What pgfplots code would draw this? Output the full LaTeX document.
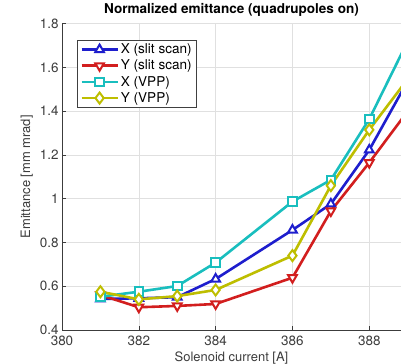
\documentclass[border=0pt]{standalone}
\usepackage{fontspec}
\setmainfont{TeX Gyre Heros}
\usepackage{pgfplots}
\pgfplotsset{compat=1.18}
\definecolor{mblue}{RGB}{30,30,205}
\definecolor{mred}{RGB}{210,30,30}
\definecolor{mcyan}{RGB}{25,190,190}
\definecolor{myel}{RGB}{190,190,0}
\definecolor{tickc}{RGB}{60,60,60}
\begin{document}
\begin{tikzpicture}
\useasboundingbox (0bp,0bp) rectangle (401bp,364bp);
\begin{axis}[
  at={(62bp,34bp)}, anchor=south west,
  scale only axis, width=339bp, height=306.3bp,
  xmin=380, xmax=388.826, ymin=0.4, ymax=1.8,
  xtick={380,382,384,386,388},
  ytick={0.4,0.6,0.8,1,1.2,1.4,1.6,1.8},
  axis x line*=bottom, axis y line*=left,
  axis line style={color=tickc, line width=0.6bp, -},
  tick align=inside, major tick length=4bp,
  tick style={color=tickc, line width=0.6bp},
  grid=major, grid style={color=black!12, line width=0.5bp},
  ticklabel style={font=\fontsize{13.5}{15}\selectfont, text=tickc},
  xticklabel style={yshift=-2.5bp},
  /pgf/number format/assume math mode=true,
  xlabel={Solenoid current [A]}, ylabel={Emittance [mm mrad]},
  label style={font=\fontsize{13}{15}\selectfont, text=tickc},
  xlabel style={yshift=0.5bp},
  title={Normalized emittance (quadrupoles on)},
  title style={font=\bfseries\fontsize{13.6}{15}\selectfont, inner sep=0pt, yshift=1.5bp},
  every axis plot/.append style={line width=2.6bp},
  legend cell align=left,
  legend image code/.code={\draw[mark repeat=2,mark phase=2] plot coordinates {(0bp,0bp) (18bp,0bp) (36bp,0bp)};},
  legend style={at={(0.0442,0.948)}, anchor=north west, draw=black!75, line width=0.6bp,
     font=\fontsize{13.6}{15}\selectfont, row sep=0.8bp, inner xsep=3bp, inner ysep=2bp},
]
\addplot[color=mblue, mark=triangle*, mark options={fill=white, solid, line width=2bp}, mark size=5bp]
  coordinates {(381,0.542) (382,0.545) (383,0.550) (384,0.633) (386,0.857) (387,0.976) (388,1.223) (389,1.538)};
\addlegendentry{X (slit scan)}
\addplot[color=mred, mark=triangle*, mark options={fill=white, solid, line width=2bp, rotate=180}, mark size=5bp]
  coordinates {(381,0.560) (382,0.504) (383,0.510) (384,0.519) (386,0.639) (387,0.944) (388,1.165) (389,1.400)};
\addlegendentry{Y (slit scan)}
\addplot[color=mcyan, mark=square*, mark options={fill=white, solid, line width=2bp}, mark size=4.3bp]
  coordinates {(381,0.552) (382,0.575) (383,0.601) (384,0.708) (386,0.987) (387,1.086) (388,1.364) (389,1.720)};
\addlegendentry{X (VPP)}
\addplot[color=myel, mark=diamond*, mark options={fill=white, solid, line width=2bp}, mark size=5.5bp]
  coordinates {(381,0.575) (382,0.540) (383,0.555) (384,0.583) (386,0.740) (387,1.060) (388,1.315) (389,1.547)};
\addlegendentry{Y (VPP)}
\end{axis}
\end{tikzpicture}
\end{document}
